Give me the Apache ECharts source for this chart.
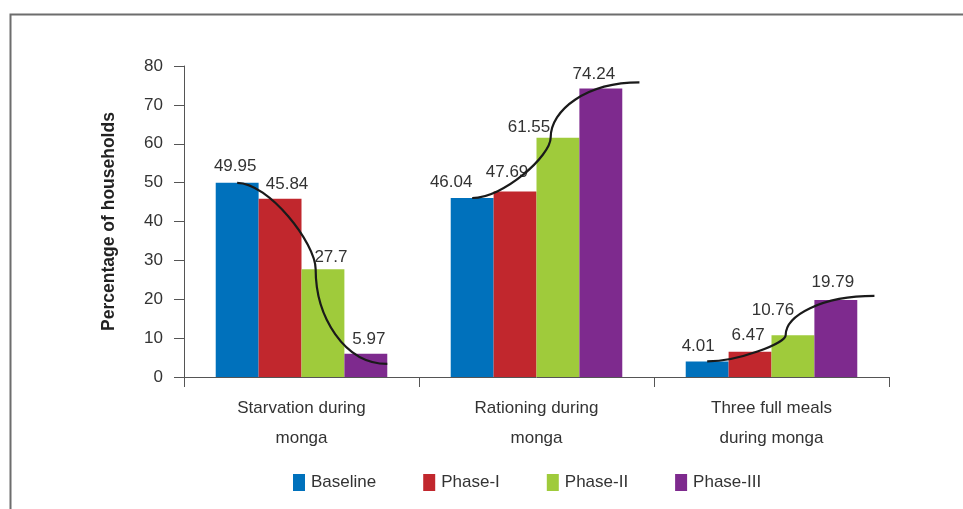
<!DOCTYPE html>
<html>
<head>
<meta charset="utf-8">
<script src="https://cdn.jsdelivr.net/npm/echarts@6/dist/echarts.min.js"></script>
<style>
  html, body { margin: 0; padding: 0; background: #fff; }
  #chart { width: 963px; height: 509px; }
</style>
</head>
<body>
<div id="chart"></div>
<script>
// Household food-security indicators across project phases
const categories = ['Starvation during\nmonga', 'Rationing during\nmonga', 'Three full meals\nduring monga'];
const seriesNames = ['Baseline', 'Phase-I', 'Phase-II', 'Phase-III'];
const baseline = [49.95, 46.04, 4.01];
const phase1   = [45.84, 47.69, 6.47];
const phase2   = [27.7, 61.55, 10.76];
const phase3   = [5.97, 74.24, 19.79];
const yMin = 0, yMax = 80, yStep = 10;

// Presentation settings
const colors = ['#0071BC', '#C1272D', '#9FCB3B', '#7E2A8E'];
const gapPct = 27;
const textColor = '#333';
const fontFamily = '"Liberation Sans", Arial, Helvetica, sans-serif';
// label nudges [dx, dy] per series and category, keeping numbers clear of the trend curves
const labelShift = [
  [[-2, -2], [-21, -1], [-9, -1]],
  [[7, 0], [-8, -5], [-2, -2]],
  [[8, 2], [-29, 4], [-20, -10]],
  [[3, 0], [-7, 0], [-3, -3]]
];

const valueSets = [baseline, phase1, phase2, phase3];

const barSeries = valueSets.map((vals, s) => ({
  name: seriesNames[s],
  type: 'bar',
  barGap: '0%',
  barCategoryGap: gapPct + '%',
  itemStyle: { color: colors[s] },
  label: {
    show: true,
    position: 'top',
    distance: 6,
    color: textColor,
    fontFamily: fontFamily,
    fontSize: 17
  },
  data: vals.map((v, i) => ({ value: v, label: { offset: labelShift[s][i] } }))
}));

// Smooth S-shaped trend curve drawn across each group of bars
const curveSeries = {
  type: 'custom',
  silent: true,
  encode: { x: 0, y: [1, 2, 3, 4] },
  data: categories.map((c, i) => [i, baseline[i], phase1[i], phase2[i], phase3[i]]),
  renderItem: function (params, api) {
    const i = api.value(0);
    const v0 = api.value(1), v2 = api.value(3), v3 = api.value(4);
    const cx = api.coord([i, 0])[0];
    const band = api.size([1, 0])[0];
    const bw = band * (1 - gapPct / 100) / 4;
    const rising = v3 > v0;
    const p0 = [cx - 1.5 * bw, api.coord([i, v0])[1]];
    const pm = [cx + 0.33 * bw, api.coord([i, v2])[1]];
    const p3 = [cx + 2 * bw + (rising ? 0.4 * bw : 0), api.coord([i, v3 + 0.12 * (v3 - v2)])[1]];
    const dx1 = pm[0] - p0[0], dy1 = pm[1] - p0[1];
    const dx2 = p3[0] - pm[0], dy2 = p3[1] - pm[1];
    const d = 'M' + p0[0] + ' ' + p0[1] +
      ' C' + (p0[0] + 0.4 * dx1) + ' ' + p0[1] + ' ' + pm[0] + ' ' + (pm[1] - 0.3 * dy1) + ' ' + pm[0] + ' ' + pm[1] +
      ' C' + pm[0] + ' ' + (pm[1] + 0.5 * dy2) + ' ' + (p3[0] - 0.6 * dx2) + ' ' + p3[1] + ' ' + p3[0] + ' ' + p3[1];
    return {
      type: 'path',
      shape: { pathData: d },
      style: { fill: null, stroke: '#1a1a1a', lineWidth: 2.2 }
    };
  },
  z: 5
};

const chart = echarts.init(document.getElementById('chart'), null, { renderer: 'canvas' });
chart.setOption({
  animation: false,
  backgroundColor: '#fff',
  color: colors,
  textStyle: { fontFamily: fontFamily, color: textColor },
  graphic: [{
    type: 'rect',
    left: 8,
    top: 12,
    shape: { x: 0, y: 0, width: 1000, height: 600 },
    style: { fill: null, stroke: '#6d6d6d', lineWidth: 2 },
    silent: true
  }],
  grid: { left: 184, right: 74, top: 66, bottom: 132, containLabel: false },
  legend: {
    data: seriesNames,
    left: 288,
    top: 469,
    itemWidth: 12,
    itemHeight: 17,
    itemGap: 47,
    icon: 'rect',
    textStyle: { fontFamily: fontFamily, fontSize: 17, color: textColor, padding: [0, 0, 0, 1] },
    selectedMode: false
  },
  xAxis: {
    type: 'category',
    data: categories,
    axisLine: { lineStyle: { color: '#555', width: 1 } },
    axisTick: { show: true, length: 10, lineStyle: { color: '#555' } },
    axisLabel: {
      color: textColor,
      fontFamily: fontFamily,
      fontSize: 17,
      lineHeight: 30,
      margin: 16,
      interval: 0
    }
  },
  yAxis: {
    type: 'value',
    min: yMin,
    max: yMax,
    interval: yStep,
    name: 'Percentage of households',
    nameLocation: 'middle',
    nameGap: 66,
    nameRotate: 90,
    nameTextStyle: { fontFamily: fontFamily, fontSize: 17.5, fontWeight: 'bold', color: '#222' },
    axisLine: { show: true, lineStyle: { color: '#555', width: 1 } },
    axisTick: { show: true, length: 10, lineStyle: { color: '#555' } },
    axisLabel: { color: textColor, fontFamily: fontFamily, fontSize: 17, margin: 21 },
    splitLine: { show: false }
  },
  series: barSeries.concat([curveSeries])
});
</script>
</body>
</html>
